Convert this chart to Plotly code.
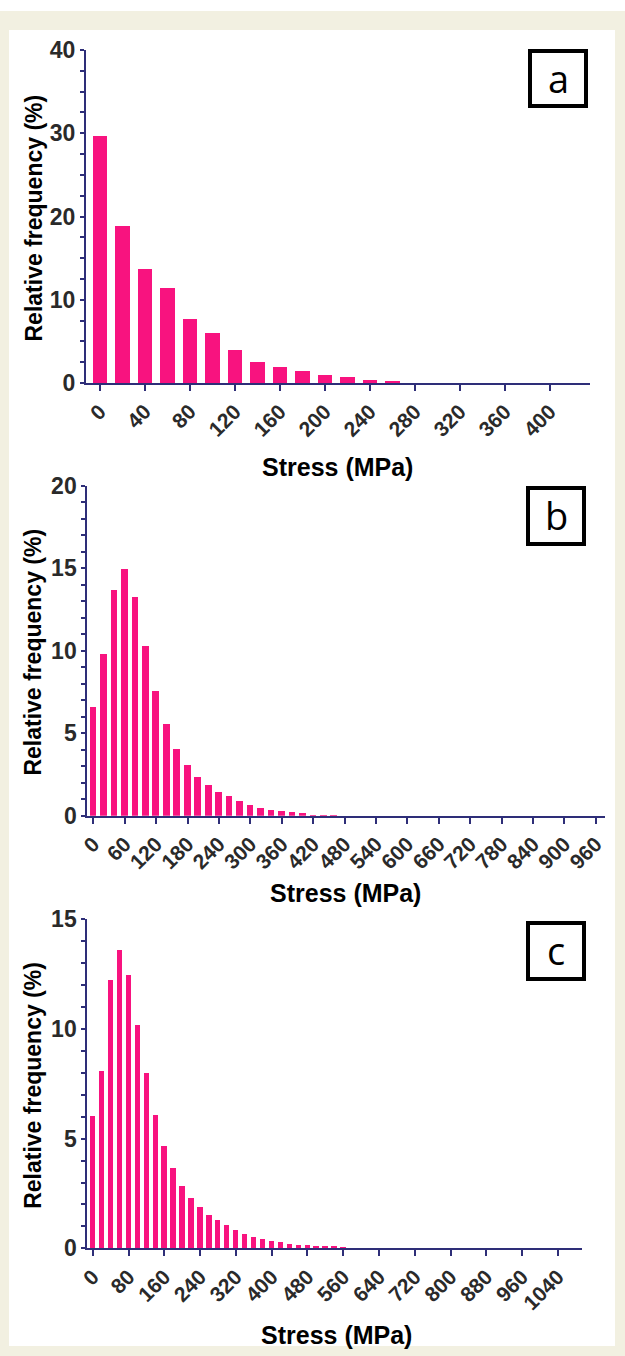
import plotly.graph_objects as go

W, H = 625, 1356

# ---------------- data ----------------
stress_a = list(range(0, 440, 20))          # 0..420
freq_a = [29.7, 18.9, 13.7, 11.4, 7.7, 6.0, 4.0, 2.5, 1.9, 1.4, 1.0, 0.7,
          0.35, 0.15, 0.0, 0.0, 0.0, 0.0, 0.0, 0.0, 0.0, 0.0]
ticks_a = list(range(0, 440, 40))

stress_b = list(range(0, 980, 20))          # 0..960
freq_b = [6.6, 9.8, 13.7, 15.0, 13.3, 10.3, 7.6, 5.6, 4.1, 3.1, 2.4, 1.9,
          1.48, 1.2, 0.9, 0.68, 0.5, 0.4, 0.3, 0.24, 0.18, 0.1, 0.05, 0.02] + [0.0] * 25
ticks_b = list(range(0, 1000, 60))

stress_c = list(range(0, 1100, 20))         # 0..1080
freq_c = [6.0, 8.05, 12.2, 13.6, 12.45, 10.15, 8.0, 6.08, 4.67, 3.64, 2.81, 2.27,
          1.87, 1.49, 1.26, 1.03, 0.82, 0.62, 0.48, 0.41, 0.33, 0.27, 0.2, 0.15,
          0.12, 0.09, 0.07, 0.05, 0.03] + [0.0] * 26
ticks_c = list(range(0, 1100, 80))

panel_letters = ["a", "b", "c"]
x_title = "Stress (MPa)"
y_title = "Relative frequency (%)"

# ---------------- styling ----------------
BAR = "#F8137F"
AXIS = "#2E2E78"
TXT = "#2a2a2a"
BEIGE = "rgb(242,240,225)"
FONT = "Liberation Sans, Arial, sans-serif"


def px_x(x):
    return x / W


def px_y(y):
    return 1 - y / H


panels = [
    dict(x=stress_a, y=freq_a, ticks=ticks_a, xr=[-12.4, 435.6], yr=[0, 40], dt=10, mn=2.5,
         xd=(86, 590), yd=(50, 383), w=12.9, box=(530, 51, 586, 106), xt=(338, 467)),
    dict(x=stress_b, y=freq_b, ticks=ticks_b, xr=[-11.5, 976.7], yr=[0, 20], dt=5, mn=1,
         xd=(87.3, 604.6), yd=(485.5, 815.7), w=12.8, box=(528, 488, 584, 544), xt=(345, 893)),
    dict(x=stress_c, y=freq_c, ticks=ticks_c, xr=[-12.5, 1094], yr=[0, 15], dt=5, mn=1,
         xd=(87.3, 582), yd=(919.3, 1248.3), w=12.0, box=(528, 923, 584, 979), xt=(336, 1335)),
]

fig = go.Figure()
shapes = [
    dict(type="rect", xref="paper", yref="paper", x0=0, x1=1, y0=0, y1=px_y(11),
         fillcolor=BEIGE, line_width=0, layer="below"),
    dict(type="rect", xref="paper", yref="paper", x0=px_x(9), x1=px_x(615),
         y0=px_y(1346), y1=px_y(30), fillcolor="white", line_width=0, layer="below"),
]
annotations = []
layout = {}

for i, p in enumerate(panels):
    n = "" if i == 0 else str(i + 1)
    xa, ya = "x" + n, "y" + n
    fig.add_trace(go.Bar(x=p["x"], y=p["y"], width=p["w"], marker_color=BAR,
                         marker_line_width=0, xaxis=xa, yaxis=ya, showlegend=False))
    layout["xaxis" + n] = dict(
        domain=[px_x(p["xd"][0]), px_x(p["xd"][1])], range=p["xr"], anchor=ya,
        tickmode="array", tickvals=p["ticks"], ticktext=[str(t) for t in p["ticks"]],
        tickangle=-45, ticks="outside", ticklen=6, tickwidth=2, tickcolor=AXIS,
        showline=True, linecolor=AXIS, linewidth=2, showgrid=False, zeroline=False,
        automargin=False,
        tickfont=dict(family=FONT, size=21, color=TXT, weight="bold"), fixedrange=True)
    layout["yaxis" + n] = dict(
        domain=[px_y(p["yd"][1]), px_y(p["yd"][0])], range=p["yr"], anchor=xa,
        dtick=p["dt"], tick0=0, ticks="outside", ticklen=4, tickwidth=2, tickcolor=AXIS,
        minor=dict(dtick=p["mn"], ticks="outside", ticklen=4, tickwidth=1.5, tickcolor=AXIS),
        showline=True, linecolor=AXIS, linewidth=2, showgrid=False, zeroline=False,
        automargin=False,
        tickfont=dict(family=FONT, size=23, color=TXT, weight="bold"), fixedrange=True)
    annotations.append(dict(text=x_title, xref="paper", yref="paper",
                            x=px_x(p["xt"][0]), y=px_y(p["xt"][1]), showarrow=False,
                            xanchor="center", yanchor="middle",
                            font=dict(family=FONT, size=25, color="black", weight="bold")))
    annotations.append(dict(text=y_title, xref="paper", yref="paper", textangle=-90,
                            x=px_x(33), y=px_y((p["yd"][0] + p["yd"][1]) / 2 + 2),
                            showarrow=False, xanchor="center", yanchor="middle",
                            font=dict(family=FONT, size=23, color="black", weight="bold")))
    bx0, by0, bx1, by1 = p["box"]
    shapes.append(dict(type="rect", xref="paper", yref="paper",
                       x0=px_x(bx0), x1=px_x(bx1), y0=px_y(by1), y1=px_y(by0),
                       line=dict(color="black", width=4), fillcolor="white"))
    annotations.append(dict(text=panel_letters[i], xref="paper", yref="paper",
                            x=px_x((bx0 + bx1) / 2), y=px_y((by0 + by1) / 2 - 1),
                            showarrow=False, xanchor="center", yanchor="middle",
                            font=dict(family="Open Sans, DejaVu Sans, sans-serif",
                                      size=38, color="black")))

fig.update_layout(
    width=W, height=H,
    margin=dict(l=0, r=0, t=0, b=0, pad=0, autoexpand=False),
    paper_bgcolor="white", plot_bgcolor="rgba(0,0,0,0)",
    shapes=shapes, annotations=annotations, bargap=0, **layout)

fig.write_html("out.html", config={"displayModeBar": False},
               post_script="document.body.style.margin='0';document.body.style.padding='0';")
